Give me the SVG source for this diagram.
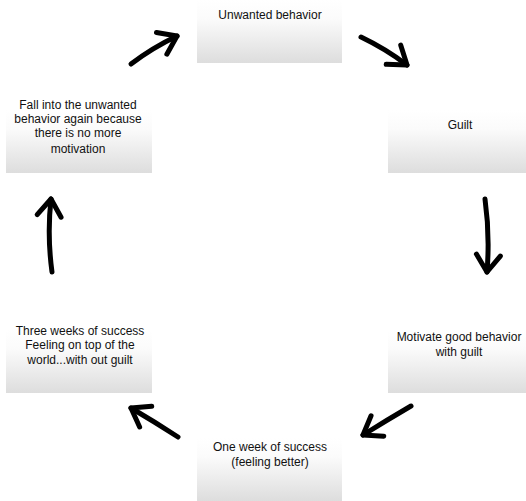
<svg xmlns="http://www.w3.org/2000/svg" width="526" height="501" viewBox="0 0 526 501">
  <defs>
    <linearGradient id="boxFill" x1="0" y1="0" x2="0" y2="1">
      <stop offset="0" stop-color="#ffffff"/>
      <stop offset="0.3" stop-color="#fbfbfb"/>
      <stop offset="1" stop-color="#dddddd"/>
    </linearGradient>
    <marker id="head" viewBox="-20 -14 24 28" markerWidth="24" markerHeight="28" refX="0" refY="0" orient="auto" markerUnits="userSpaceOnUse" overflow="visible">
      <path d="M-17,-12 L0,0 L-17,12" fill="none" stroke="#000" stroke-width="5" stroke-linecap="round" stroke-linejoin="round"/>
    </marker>
  </defs>
  <style>
    .box { fill: url(#boxFill); }
    .label { font-family: "Liberation Sans", Arial, sans-serif; font-size: 12px; fill: #111; text-anchor: middle; }
    .arrow { fill: none; stroke: #000; stroke-width: 5; stroke-linecap: round; marker-end: url(#head); }
  </style>
  <rect width="526" height="501" fill="#ffffff"/>

  <g id="unwanted">
    <rect class="box" x="197" y="0" width="145" height="63"/>
    <text class="label" x="270" y="19">Unwanted behavior</text>
  </g>

  <g id="guilt">
    <rect class="box" x="388" y="110" width="138" height="63"/>
    <text class="label" x="460" y="129">Guilt</text>
  </g>

  <g id="motivate">
    <rect class="box" x="388" y="330" width="138" height="63"/>
    <text class="label" x="459" y="341">Motivate good behavior</text>
    <text class="label" x="459" y="356">with guilt</text>
  </g>

  <g id="one-week">
    <rect class="box" x="197" y="438" width="145" height="63"/>
    <text class="label" x="270" y="451">One week of success</text>
    <text class="label" x="270" y="466">(feeling better)</text>
  </g>

  <g id="three-weeks">
    <rect class="box" x="6" y="330" width="146" height="63"/>
    <text class="label" x="80" y="335">Three weeks of success</text>
    <text class="label" x="80" y="349">Feeling on top of the</text>
    <text class="label" x="80" y="364">world...with out guilt</text>
  </g>

  <g id="fall-back">
    <rect class="box" x="6" y="110" width="146" height="63"/>
    <text class="label" x="78" y="109">Fall into the unwanted</text>
    <text class="label" x="78" y="123">behavior again because</text>
    <text class="label" x="78" y="137">there is no more</text>
    <text class="label" x="78" y="153">motivation</text>
  </g>

  <g id="connectors">
    <path class="arrow" d="M131,64 Q152,48 177,36"/>
    <path class="arrow" d="M361,37 Q386,49 407,65"/>
    <path class="arrow" d="M485,199 Q490,235 487,272"/>
    <path class="arrow" d="M411,406 Q387,420 363,435"/>
    <path class="arrow" d="M178,437 Q155,422 131,408"/>
    <path class="arrow" d="M52,272 Q47,235 51,199"/>
  </g>
</svg>
